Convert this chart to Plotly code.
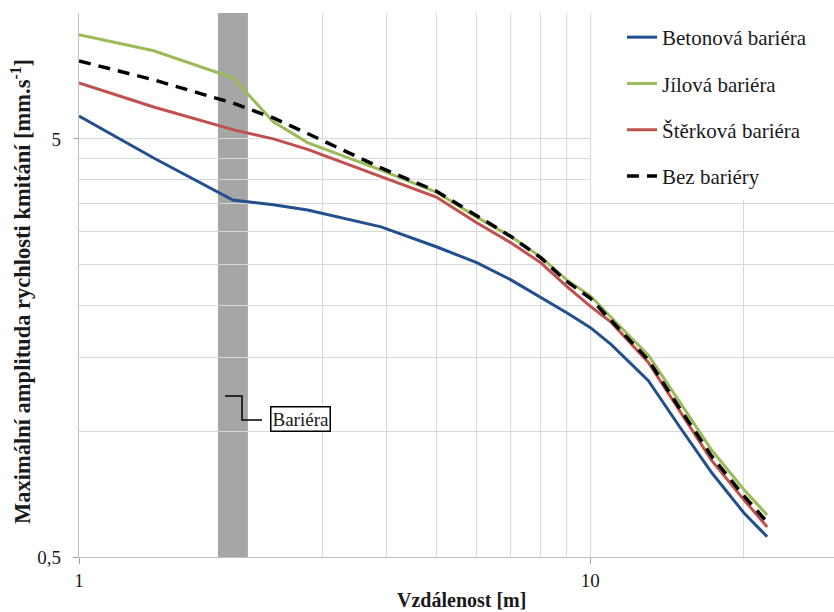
import plotly.graph_objects as go
import math

# ---- data ----
distance = [1, 1.4, 2, 2.4, 2.8, 3.9, 5, 6, 7, 8, 9, 10, 11, 13, 15, 17.3, 20, 22.2]
betonova = [5.67, 4.50, 3.57, 3.48, 3.38, 3.08, 2.76, 2.53, 2.30, 2.09, 1.92, 1.77, 1.61, 1.32, 1.02, 0.795, 0.637, 0.559]
jilova   = [8.87, 8.12, 7.00, 5.49, 4.90, 4.21, 3.73, 3.25, 2.92, 2.61, 2.30, 2.11, 1.87, 1.52, 1.17, 0.90, 0.724, 0.630]
sterkova = [6.80, 5.96, 5.26, 5.00, 4.72, 4.06, 3.63, 3.15, 2.82, 2.53, 2.22, 1.99, 1.82, 1.46, 1.11, 0.85, 0.685, 0.590]
bez      = [7.68, 6.92, 6.09, 5.61, 5.15, 4.26, 3.75, 3.27, 2.92, 2.60, 2.28, 2.08, 1.84, 1.48, 1.13, 0.87, 0.700, 0.606]

series_names = ["Betonová bariéra", "Jílová bariéra", "Štěrková bariéra", "Bez bariéry"]
series_values = [betonova, jilova, sterkova, bez]
series_colors = ["#22508f", "#9bbb59", "#c0504d", "#000000"]
series_dash = ["solid", "solid", "solid", "12px,8px"]
series_width = [3, 3, 3, 3.5]

barrier_from, barrier_to = 1.87, 2.14

x_major = [1, 10]
x_major_text = ["1", "10"]
x_minor = [3, 4, 5, 6, 7, 8, 9, 20, 30]   # the line at 2 is hidden behind the barrier
y_major = [0.5, 5]
y_major_text = ["0,5", "5"]
y_minor = [1, 1.5, 2, 2.5, 3, 3.5, 4, 4.5, 10]

SERIF = "Liberation Serif"
GRID = "#d9d9d9"

fig = go.Figure()
for name, vals, col, dash, w in zip(series_names, series_values, series_colors, series_dash, series_width):
    fig.add_trace(go.Scatter(
        x=distance, y=vals, name=name, mode="lines", legendgroup=name,
        line=dict(color=col, width=w, dash=dash),
    ))

# barrier band
fig.add_shape(type="rect", xref="x", yref="paper", x0=barrier_from, x1=barrier_to,
              y0=0, y1=1, fillcolor="#a6a6a6", line_width=0, layer="between")

# layout geometry in pixels
L, T, B = 79, 13, 557
W, H = 755, 544
def px(x):
    return (x - L) / W
def py(y):
    return (B - y) / H

# legend background (covers gridlines)
fig.add_shape(type="rect", xref="paper", yref="paper", x0=px(591), x1=1.0,
              y0=py(200), y1=1.0, fillcolor="white", line_width=0, layer="above")

# callout line for "Bariéra"
fig.add_shape(type="path", xref="paper", yref="paper",
              path=f"M {px(225)},{py(396)} L {px(242)},{py(396)} L {px(242)},{py(420)} L {px(262)},{py(420)}",
              line=dict(color="black", width=1.5))
fig.add_annotation(xref="paper", yref="paper", x=px(300), y=py(419), xanchor="center", yanchor="middle",
                   text="Bariéra", showarrow=False, font=dict(family=SERIF, size=19, color="#1a1a1a"),
                   bordercolor="black", borderwidth=1.5, borderpad=1, bgcolor="white")

# axis titles
fig.add_annotation(xref="paper", yref="paper", x=px(461), y=py(600), xanchor="center", yanchor="middle",
                   text="<b>Vzdálenost [m]</b>", showarrow=False,
                   font=dict(family=SERIF, size=20, color="#1a1a1a"))
fig.add_annotation(xref="paper", yref="paper", x=px(21), y=py(292), xanchor="center", yanchor="middle",
                   text="<b>Maximální amplituda rychlosti kmitání [mm.s<sup>-1</sup>]</b>", showarrow=False,
                   textangle=-90, font=dict(family=SERIF, size=22.5, color="#1a1a1a"))

fig.update_layout(
    width=834, height=612,
    margin=dict(l=L, r=0, t=T, b=612 - B, autoexpand=False),
    paper_bgcolor="white", plot_bgcolor="white",
    font=dict(family=SERIF, size=18, color="#262626"),
    legend=dict(x=px(622), y=py(17), xanchor="left", yanchor="top",
                bgcolor="rgba(255,255,255,0)", font=dict(family=SERIF, size=21, color="#1a1a1a"),
                tracegroupgap=16, itemwidth=30),
    showlegend=True,
)
fig.update_xaxes(
    type="log", range=[0, math.log10(30)], automargin=False,
    tickmode="array", tickvals=x_major, ticktext=x_major_text,
    ticks="outside", ticklen=6, tickcolor="#a0a0a0",
    showgrid=True, gridcolor=GRID, gridwidth=1.2,
    minor=dict(tickmode="array", tickvals=x_minor, showgrid=True, gridcolor=GRID, gridwidth=1.2, ticks=""),
    showline=True, linecolor="#bfbfbf", linewidth=1.2,
    tickfont=dict(family=SERIF, size=19, color="#1a1a1a"),
    zeroline=False,
)
fig.update_yaxes(
    type="log", range=[math.log10(0.5), 1], automargin=False,
    tickmode="array", tickvals=y_major, ticktext=y_major_text,
    ticks="outside", ticklen=5, tickcolor="#a0a0a0", ticklabelstandoff=8,
    showgrid=True, gridcolor=GRID, gridwidth=1.2,
    minor=dict(tickmode="array", tickvals=y_minor, showgrid=True, gridcolor=GRID, gridwidth=1.2, ticks=""),
    showline=True, linecolor="#bfbfbf", linewidth=1.2,
    tickfont=dict(family=SERIF, size=19, color="#1a1a1a"),
    zeroline=False,
)

fig.write_html("out.html", config={"displayModeBar": False},
               post_script="document.body.style.margin='0';")
